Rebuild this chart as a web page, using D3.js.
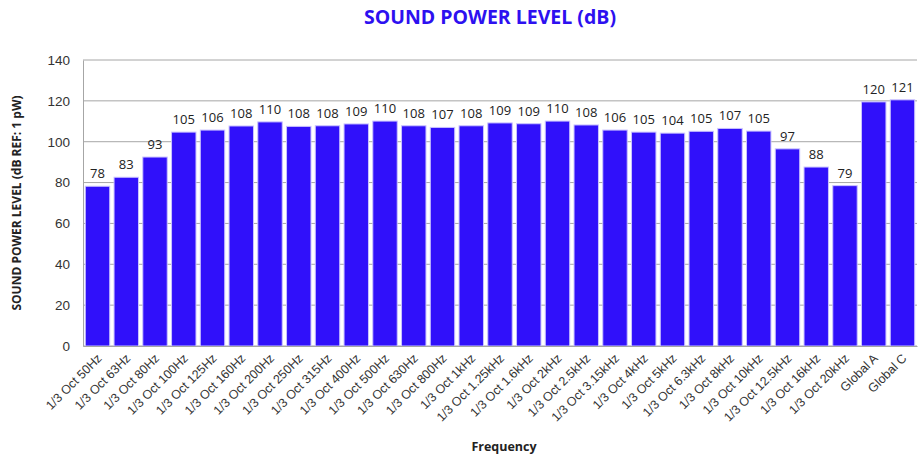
<!DOCTYPE html>
<html>
<head>
<meta charset="utf-8">
<script src="https://cdn.jsdelivr.net/npm/d3@7"></script>
<style>
  body { margin: 0; background: #fff; }
  svg { font-family: "Open Sans", "Liberation Sans", sans-serif; }
</style>
</head>
<body>
<svg></svg>
<script>
let bands = ["1/3 Oct 50Hz", "1/3 Oct 63Hz", "1/3 Oct 80Hz", "1/3 Oct 100Hz", "1/3 Oct 125Hz",
    "1/3 Oct 160Hz", "1/3 Oct 200Hz", "1/3 Oct 250Hz", "1/3 Oct 315Hz", "1/3 Oct 400Hz",
    "1/3 Oct 500Hz", "1/3 Oct 630Hz", "1/3 Oct 800Hz", "1/3 Oct 1kHz", "1/3 Oct 1.25kHz",
    "1/3 Oct 1.6kHz", "1/3 Oct 2kHz", "1/3 Oct 2.5kHz", "1/3 Oct 3.15kHz", "1/3 Oct 4kHz",
    "1/3 Oct 5kHz", "1/3 Oct 6.3kHz", "1/3 Oct 8kHz", "1/3 Oct 10kHz", "1/3 Oct 12.5kHz",
    "1/3 Oct 16kHz", "1/3 Oct 20kHz", "Global A", "Global C"];
let levels = [78.2, 82.6, 92.5, 104.7, 105.7, 107.7, 109.7, 107.5, 107.8, 108.7,
    110.1, 107.8, 107.0, 107.8, 109.2, 108.8, 110.1, 108.2, 105.7, 104.7,
    104.2, 105.1, 106.5, 105.2, 96.5, 87.6, 78.5, 119.5, 120.5];
let yTicks = [0, 20, 40, 60, 80, 100, 120, 140];

let width = 922;
let height = 457;
let margin = {top: 60, right: 5, bottom: 111, left: 83};

let svg = d3.select("svg")
    .attr("width", width)
    .attr("height", height);

let x = d3.scaleBand()
    .domain(bands)
    .range([margin.left, width - margin.right])
    .paddingInner(0.15)
    .paddingOuter(0.08);

let y = d3.scaleLinear()
    .domain([0, 140])
    .range([height - margin.bottom, margin.top]);

// gridlines
svg.append("g")
    .selectAll("line")
    .data(yTicks)
    .enter()
    .append("line")
    .attr("x1", margin.left)
    .attr("x2", width - margin.right)
    .attr("y1", d => y(d))
    .attr("y2", d => y(d))
    .attr("stroke", "#a6a6a6")
    .attr("stroke-width", 1);

// y axis
let yAxis = svg.append("g")
    .attr("transform", `translate(${margin.left},0)`)
    .call(d3.axisLeft(y).tickValues(yTicks).tickSize(0).tickPadding(13));
yAxis.select(".domain").attr("stroke", "#a6a6a6");
yAxis.selectAll("text")
    .attr("font-size", 13.5)
    .attr("fill", "#333");

// bars
svg.append("g")
    .selectAll("rect")
    .data(levels)
    .enter()
    .append("rect")
    .attr("x", (d, i) => x(bands[i]))
    .attr("width", x.bandwidth())
    .attr("y", d => y(d))
    .attr("height", d => y(0) - y(d))
    .attr("fill", "#3010fa")
    .attr("stroke", "#c9c2ff")
    .attr("stroke-width", 1);

// value labels
svg.append("g")
    .selectAll("text")
    .data(levels)
    .enter()
    .append("text")
    .attr("x", (d, i) => x(bands[i]) + x.bandwidth() / 2)
    .attr("y", d => y(d) - 8)
    .attr("text-anchor", "middle")
    .attr("font-size", 13)
    .attr("fill", "#222")
    .text(d => Math.round(d));

// x axis
let xAxis = svg.append("g")
    .attr("transform", `translate(0,${y(0)})`)
    .call(d3.axisBottom(x).tickSize(0).tickPadding(0));
xAxis.select(".domain").attr("stroke", "#a6a6a6");
xAxis.selectAll("text")
    .attr("font-size", 12.5)
    .attr("fill", "#333")
    .attr("text-anchor", "end")
    .attr("dy", 0)
    .attr("transform", "translate(5,13) rotate(-45)");

// titles
svg.append("text")
    .attr("x", 490)
    .attr("y", 24)
    .attr("text-anchor", "middle")
    .attr("font-size", 19)
    .attr("font-weight", "bold")
    .attr("fill", "#2d10f0")
    .attr("textLength", 252)
    .attr("lengthAdjust", "spacingAndGlyphs")
    .text("SOUND POWER LEVEL (dB)");

svg.append("text")
    .attr("x", 504)
    .attr("y", 451)
    .attr("text-anchor", "middle")
    .attr("font-size", 12.5)
    .attr("font-weight", "bold")
    .attr("fill", "#222")
    .text("Frequency");

svg.append("text")
    .attr("transform", `translate(21,${y(70)}) rotate(-90)`)
    .attr("text-anchor", "middle")
    .attr("font-size", 12)
    .attr("font-weight", "bold")
    .attr("fill", "#222")
    .text("SOUND POWER LEVEL (dB REF: 1 pW)");
</script>
</body>
</html>
